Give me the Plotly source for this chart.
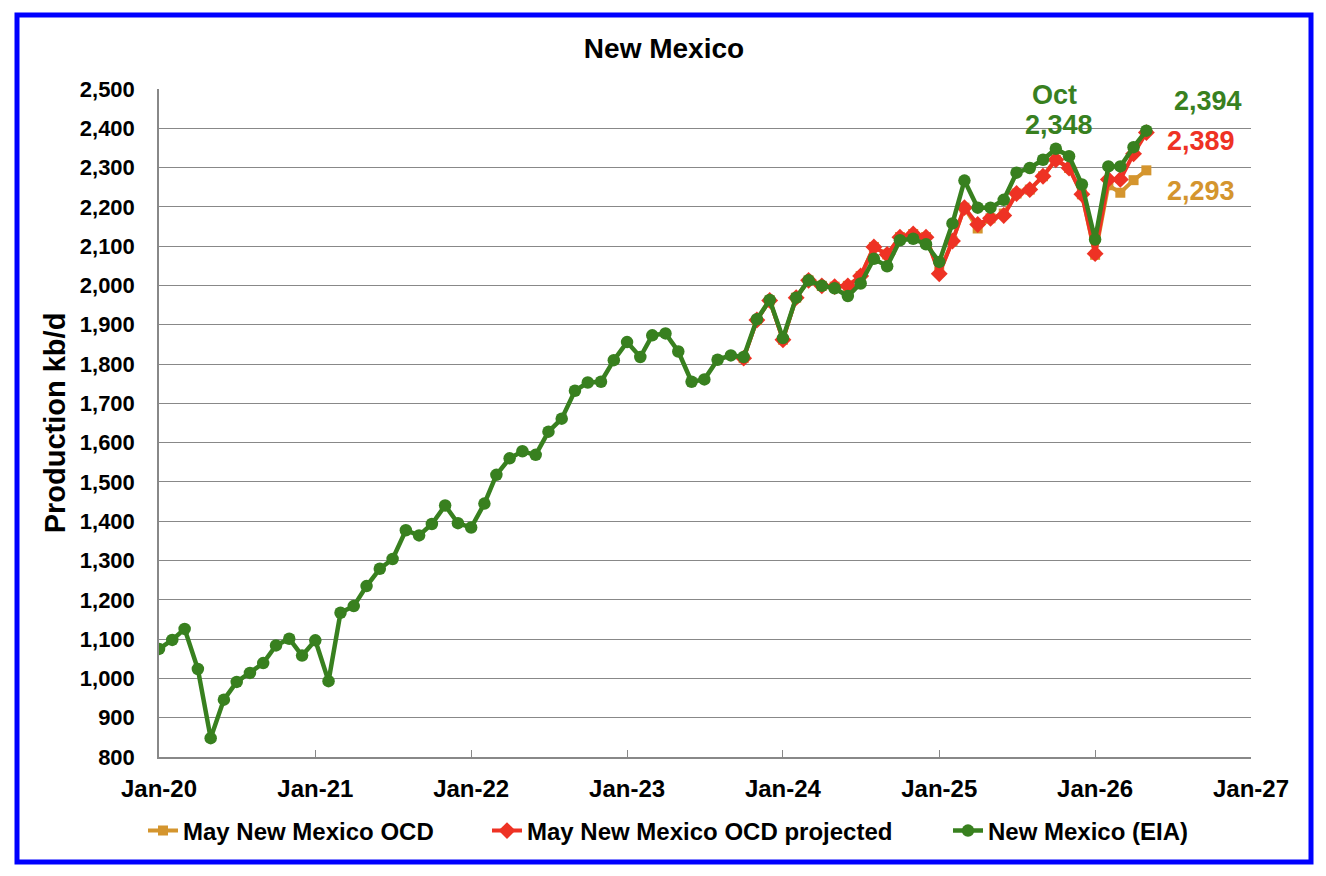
import pandas as pd
import plotly.graph_objects as go

# monthly production, kb/d
months = pd.date_range("2020-01-01", periods=77, freq="MS")  # Jan-20 .. May-26
ocd_months = months[45:]  # Oct-23 .. May-26

eia = [
    1075, 1098, 1126, 1024, 848, 946, 991, 1014, 1039, 1084, 1101, 1058,
    1097, 993, 1167, 1184, 1235, 1279, 1304, 1377, 1364, 1393, 1440, 1395,
    1384, 1445, 1518, 1560, 1578, 1569, 1628, 1661, 1732, 1753, 1755, 1810,
    1856, 1818, 1873, 1878, 1832, 1755, 1761, 1811, 1822, 1818, 1914, 1963,
    1866, 1969, 2013, 1999, 1993, 1973, 2005, 2068, 2049, 2115, 2119, 2105,
    2060, 2158, 2267, 2198, 2198, 2218, 2287, 2299, 2320, 2348, 2329, 2257,
    2117, 2303, 2303, 2352, 2394,
]

ocd_projected = [
    1815, 1912, 1962,
    1862, 1969, 2013, 1999, 1997, 1999, 2024, 2098, 2079, 2123, 2131, 2123,
    2030, 2113, 2198, 2155, 2171, 2178, 2234, 2244, 2278, 2320, 2299, 2232,
    2081, 2270, 2270, 2335, 2389,
]

ocd = [
    1815, 1912, 1962,
    1862, 1969, 2013, 1999, 1997, 1999, 2024, 2098, 2079, 2123, 2131, 2123,
    2034, 2113, 2198, 2145, 2171, 2183, 2234, 2244, 2278, 2320, 2299, 2232,
    2078, 2255, 2236, 2268, 2293,
]

GREEN = "#38801F"
RED = "#EE3224"
ORANGE = "#D4952E"
FONT = "Liberation Sans"

W, H = 1326, 876
OFF = 7  # page offset of the figure inside the browser window
ML, MT = 158 - OFF, 88 - OFF
MR, MB = W - (1250 - OFF), H - (756 - OFF)
pw, ph = W - ML - MR, H - MT - MB


def px_x(px):
    return (px - OFF - ML) / pw


def px_y(py):
    return (H - MB - (py - OFF)) / ph


fig = go.Figure()
fig.add_trace(go.Scatter(x=ocd_months, y=ocd, name="May New Mexico OCD", mode="lines+markers",
                         line=dict(color=ORANGE, width=4), legend="legend",
                         marker=dict(symbol="square", size=10, color=ORANGE)))
fig.add_trace(go.Scatter(x=ocd_months, y=ocd_projected, name="May New Mexico OCD projected",
                         mode="lines+markers", line=dict(color=RED, width=4), legend="legend2",
                         marker=dict(symbol="diamond", size=13, color=RED)))
fig.add_trace(go.Scatter(x=months, y=eia, name="New Mexico (EIA)", mode="lines+markers",
                         line=dict(color=GREEN, width=4.5), legend="legend3",
                         marker=dict(symbol="circle", size=12.5, color=GREEN)))

# end-of-series labels
labels = [
    ("2025-09-28", 2486, "Oct", GREEN),
    ("2025-10-08", 2408, "2,348", GREEN),
    ("2026-09-22", 2469, "2,394", GREEN),
    ("2026-09-06", 2367, "2,389", RED),
    ("2026-09-06", 2240, "2,293", ORANGE),
]
for x, y, t, c in labels:
    fig.add_annotation(x=x, y=y, text=f"<b>{t}</b>", showarrow=False,
                       font=dict(family=FONT, size=27, color=c))

fig.add_shape(type="rect", xref="paper", yref="paper",
              x0=px_x(16), x1=px_x(1310), y0=px_y(861), y1=px_y(14),
              line=dict(color="#0000FF", width=5), layer="below")

leg = dict(orientation="h", yanchor="middle", y=px_y(830), xanchor="left",
           bgcolor="rgba(0,0,0,0)", font=dict(family=FONT, size=24, color="black", weight="bold"))

fig.update_layout(
    width=W, height=H,
    margin=dict(l=ML, r=MR, t=MT, b=MB),
    paper_bgcolor="white", plot_bgcolor="white",
    title=dict(text="<b>New Mexico</b>", x=px_x(663), xref="paper", xanchor="center",
               y=1 - (47 - OFF) / H, yanchor="middle",
               font=dict(family=FONT, size=28, color="black")),
    font=dict(family=FONT, color="black"),
    showlegend=True,
    legend=dict(leg, x=px_x(142)),
    legend2=dict(leg, x=px_x(486)),
    legend3=dict(leg, x=px_x(947)),
)
fig.update_xaxes(type="date", range=["2020-01-01", "2027-01-01"], tick0="2020-01-01",
                 dtick="M12", tickformat="%b-%y", ticks="inside", ticklen=7,
                 tickcolor="#888888", showline=True, linecolor="#888888", linewidth=1.5,
                 showgrid=False, zeroline=False, ticklabelstandoff=9,
                 tickfont=dict(family=FONT, size=24, color="black", weight="bold"))
fig.update_yaxes(range=[800, 2500], dtick=100, tickformat=",", showline=True,
                 linecolor="#888888", linewidth=1.5, showgrid=True, gridcolor="#888888",
                 gridwidth=1.2, zeroline=False, ticks="", ticklabelstandoff=18,
                 tickfont=dict(family=FONT, size=22, color="black", weight="bold"),
                 title=dict(text="<b>Production kb/d</b>", standoff=6,
                            font=dict(family=FONT, size=29, color="black")))

fig.write_html("out.html")
